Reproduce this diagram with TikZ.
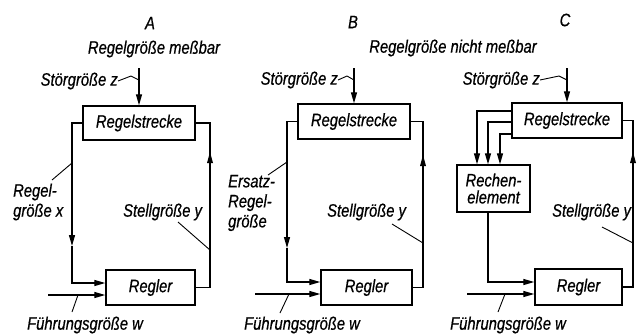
\documentclass[tikz,border=0pt]{standalone}
\usepackage{fontspec}
\setmainfont{Liberation Sans}[FakeStretch=0.82, ItalicFeatures={FakeBold=0.6}]
\usetikzlibrary{arrows.meta}
\begin{document}
\begin{tikzpicture}[x=1pt,y=-1pt,
  lab/.style={font=\itshape\fontsize{18}{20}\selectfont, inner sep=0pt},
  blk/.style={draw, line width=1.4pt, minimum height=35pt, inner sep=0pt, lab},
  wire/.style={line width=1.3pt},
  arr/.style={-{Triangle[length=11pt,width=6pt]}},
  lead/.style={line width=0.9pt}]
\useasboundingbox (0,0) rectangle (644,333);
\fill[white] (0,0) rectangle (644,333);

% ---------------- A ----------------
\node[lab] (tA) at (150,23) {A};
\node[lab] (mA) at (154,49) {Regelgröße meßbar};
\node[blk, minimum width=112pt, minimum height=34pt] (sA) at (139,123) {Regelstrecke};
\node[blk, minimum width=89pt] (rA) at (150.5,287.5) {Regler};
\node[lab, anchor=east] (zlA) at (118,81) {Störgröße z};
\coordinate (zA) at (139,68);
\coordinate (zkA) at (131,76);
\coordinate (zjA) at (139,80);
\draw[wire,arr] (zA) -- (sA.north);
\draw[lead] (zlA.east) -- (zkA) -- (zjA);
\coordinate (aD) at (72,246);
\draw[wire,arr] (sA.west) -| (aD);
\draw[wire,arr] (aD) |- ([yshift=4.5pt]rA.west);
\coordinate (aU) at (210,152);
\draw[wire] (rA.east) -| (aU) |- (sA.east);
\fill (aU) -- ++(-3,11) -- ++(6,0) -- cycle;
\coordinate (wA) at (48,295);
\draw[wire,arr] (wA) -- ([yshift=-7.5pt]rA.west);
\node[lab, anchor=west, align=left] (xA) at (13,202) {Regel-\\größe x};
\coordinate (xl1) at (52,180); \coordinate (xl2) at (72,163);
\draw[lead] (xl1) -- (xl2);
\node[lab, anchor=west] (yA) at (123,212) {Stellgröße y};
\coordinate (yl1A) at (178,222); \coordinate (yl2A) at (210,250);
\draw[lead] (yl1A) -- (yl2A);
\node[lab] (fA) at (85,325) {Führungsgröße w};
\coordinate (fl1A) at (72,312); \coordinate (fl2A) at (78,295);
\draw[lead] (fl1A) -- (fl2A);

% ---------------- B ----------------
\node[lab] (tB) at (353,22) {B};
\node[lab] (mB) at (453,48) {Regelgröße nicht meßbar};
\node[blk, minimum width=112pt, minimum height=35pt] (sB) at (354,121.5) {Regelstrecke};
\node[blk, minimum width=91pt] (rB) at (366.5,287.5) {Regler};
\node[lab, anchor=east] (zlB) at (338,80) {Störgröße z};
\coordinate (zB) at (354,68);
\coordinate (zkB) at (347,76);
\coordinate (zjB) at (354,80);
\draw[wire,arr] (zB) -- (sB.north);
\draw[lead] (zlB.east) -- (zkB) -- (zjB);
\coordinate (bD) at (287,248);
\draw[wire,arr] (sB.west) -| (bD);
\draw[wire,arr] (bD) |- ([yshift=5.5pt]rB.west);
\coordinate (bU) at (423,155);
\draw[wire] (rB.east) -| (bU) |- (sB.east);
\fill (bU) -- ++(-3,11) -- ++(6,0) -- cycle;
\coordinate (wB) at (255,294);
\draw[wire,arr] (wB) -- ([yshift=-6.5pt]rB.west);
\node[lab, anchor=west, align=left] (xB) at (228,203) {Ersatz-\\Regel-\\größe};
\coordinate (xl1B) at (268,175); \coordinate (xl2B) at (287,162);
\draw[lead] (xl1B) -- (xl2B);
\node[lab, anchor=west] (yB) at (327,212) {Stellgröße y};
\coordinate (yl1B) at (392,224); \coordinate (yl2B) at (423,243);
\draw[lead] (yl1B) -- (yl2B);
\node[lab] (fB) at (302,325) {Führungsgröße w};
\coordinate (fl1B) at (280,313); \coordinate (fl2B) at (289,294);
\draw[lead] (fl1B) -- (fl2B);

% ---------------- C ----------------
\node[lab] (tC) at (565,20) {C};
\node[blk, minimum width=110pt, minimum height=35pt] (sC) at (567,120.5) {Regelstrecke};
\node[blk, minimum width=87pt, minimum height=36pt] (rC) at (578.5,287) {Regler};
\node[blk, minimum width=73pt, minimum height=47pt, align=center, font=\itshape\fontsize{18}{17}\selectfont] (rc) at (493.5,188.5) {Rechen-\\element};
\node[lab, anchor=east] (zlC) at (540,80) {Störgröße z};
\coordinate (zC) at (567,68);
\coordinate (zkC) at (559,76);
\coordinate (zjC) at (567,80);
\draw[wire,arr] (zC) -- (sC.north);
\draw[lead] (zlC.east) -- (zkC) -- (zjC);
\draw[wire,arr] ([yshift=9.5pt]sC.west) -| ([xshift=-16.5pt]rc.north);
\draw[wire,arr] ([yshift=-1.5pt]sC.west) -| ([xshift=-5.5pt]rc.north);
\draw[wire,arr] ([yshift=-13.5pt]sC.west) -| ([xshift=6.5pt]rc.north);
\draw[wire,arr] ([xshift=-5.5pt]rc.south) |- ([yshift=5pt]rC.west);
\coordinate (cU) at (633,152);
\draw[wire] (rC.east) -| (cU) |- (sC.east);
\fill (cU) -- ++(-3,11) -- ++(6,0) -- cycle;
\coordinate (wC) at (467,294);
\draw[wire,arr] (wC) -- ([yshift=-7pt]rC.west);
\node[lab, anchor=west] (yC) at (552,212) {Stellgröße y};
\coordinate (yl1C) at (602,227); \coordinate (yl2C) at (633,243);
\draw[lead] (yl1C) -- (yl2C);
\node[lab] (fC) at (508,325) {Führungsgröße w};
\coordinate (fl1C) at (498,312); \coordinate (fl2C) at (505,294);
\draw[lead] (fl1C) -- (fl2C);
\end{tikzpicture}
\end{document}
